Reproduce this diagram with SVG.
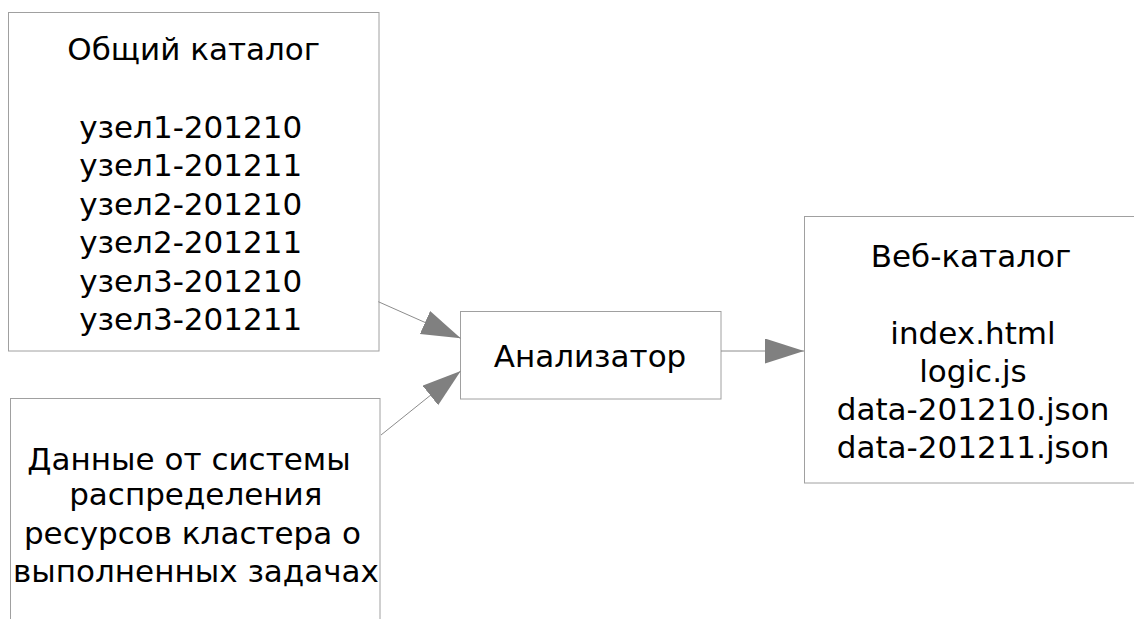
<svg xmlns="http://www.w3.org/2000/svg" width="1134" height="619" viewBox="0 0 1134 619">
<style>
.box{fill:#ffffff;stroke:#a0a0a0;stroke-width:1}
.t{font-family:"DejaVu Sans","Liberation Sans",sans-serif;font-size:31px;fill:#000;text-anchor:middle}
.conn{stroke:#8c8c8c;stroke-width:1;fill:none}
</style>
<defs>
<marker id="ah" markerUnits="userSpaceOnUse" markerWidth="40" markerHeight="26" refX="39" refY="12.5" orient="auto">
<path d="M0,0 L39,12.5 L0,25 Z" fill="#808080"/>
</marker>
</defs>
<rect width="1134" height="619" fill="#ffffff"/>
<g id="node-catalog">
<rect class="box" x="8.5" y="12.5" width="370.5" height="338.5"/>
<text class="t" x="193.7" y="60">Общий каталог</text>
<text class="t" x="190.7" y="137.5">узел1-201210</text>
<text class="t" x="190.7" y="176">узел1-201211</text>
<text class="t" x="190.7" y="214.5">узел2-201210</text>
<text class="t" x="190.7" y="253">узел2-201211</text>
<text class="t" x="190.7" y="291.5">узел3-201210</text>
<text class="t" x="190.7" y="330">узел3-201211</text>
</g>
<g id="node-scheduler">
<rect class="box" x="10.5" y="398.5" width="369.5" height="260"/>
<text class="t" x="189" y="470">Данные от системы</text>
<text class="t" x="195.8" y="505">распределения</text>
<text class="t" x="192.5" y="543.5">ресурсов кластера о</text>
<text class="t" x="196" y="582">выполненных задачах</text>
</g>
<g id="node-analyzer">
<rect class="box" x="460.5" y="311.5" width="260.5" height="87.5"/>
<text class="t" x="590" y="366.7">Анализатор</text>
</g>
<g id="node-web">
<rect class="box" x="804.5" y="216.5" width="345" height="266.5"/>
<text class="t" x="971" y="267.3">Веб-каталог</text>
<text class="t" x="973" y="344">index.html</text>
<text class="t" x="973" y="382">logic.js</text>
<text class="t" x="973" y="420">data-201210.json</text>
<text class="t" x="973" y="458">data-201211.json</text>
</g>
<g id="connectors">
<line class="conn" x1="378.3" y1="301.7" x2="460.7" y2="338.3" marker-end="url(#ah)"/>
<line class="conn" x1="381" y1="435" x2="460.7" y2="371" marker-end="url(#ah)"/>
<line class="conn" x1="721" y1="351" x2="804" y2="351" marker-end="url(#ah)"/>
</g>
</svg>
